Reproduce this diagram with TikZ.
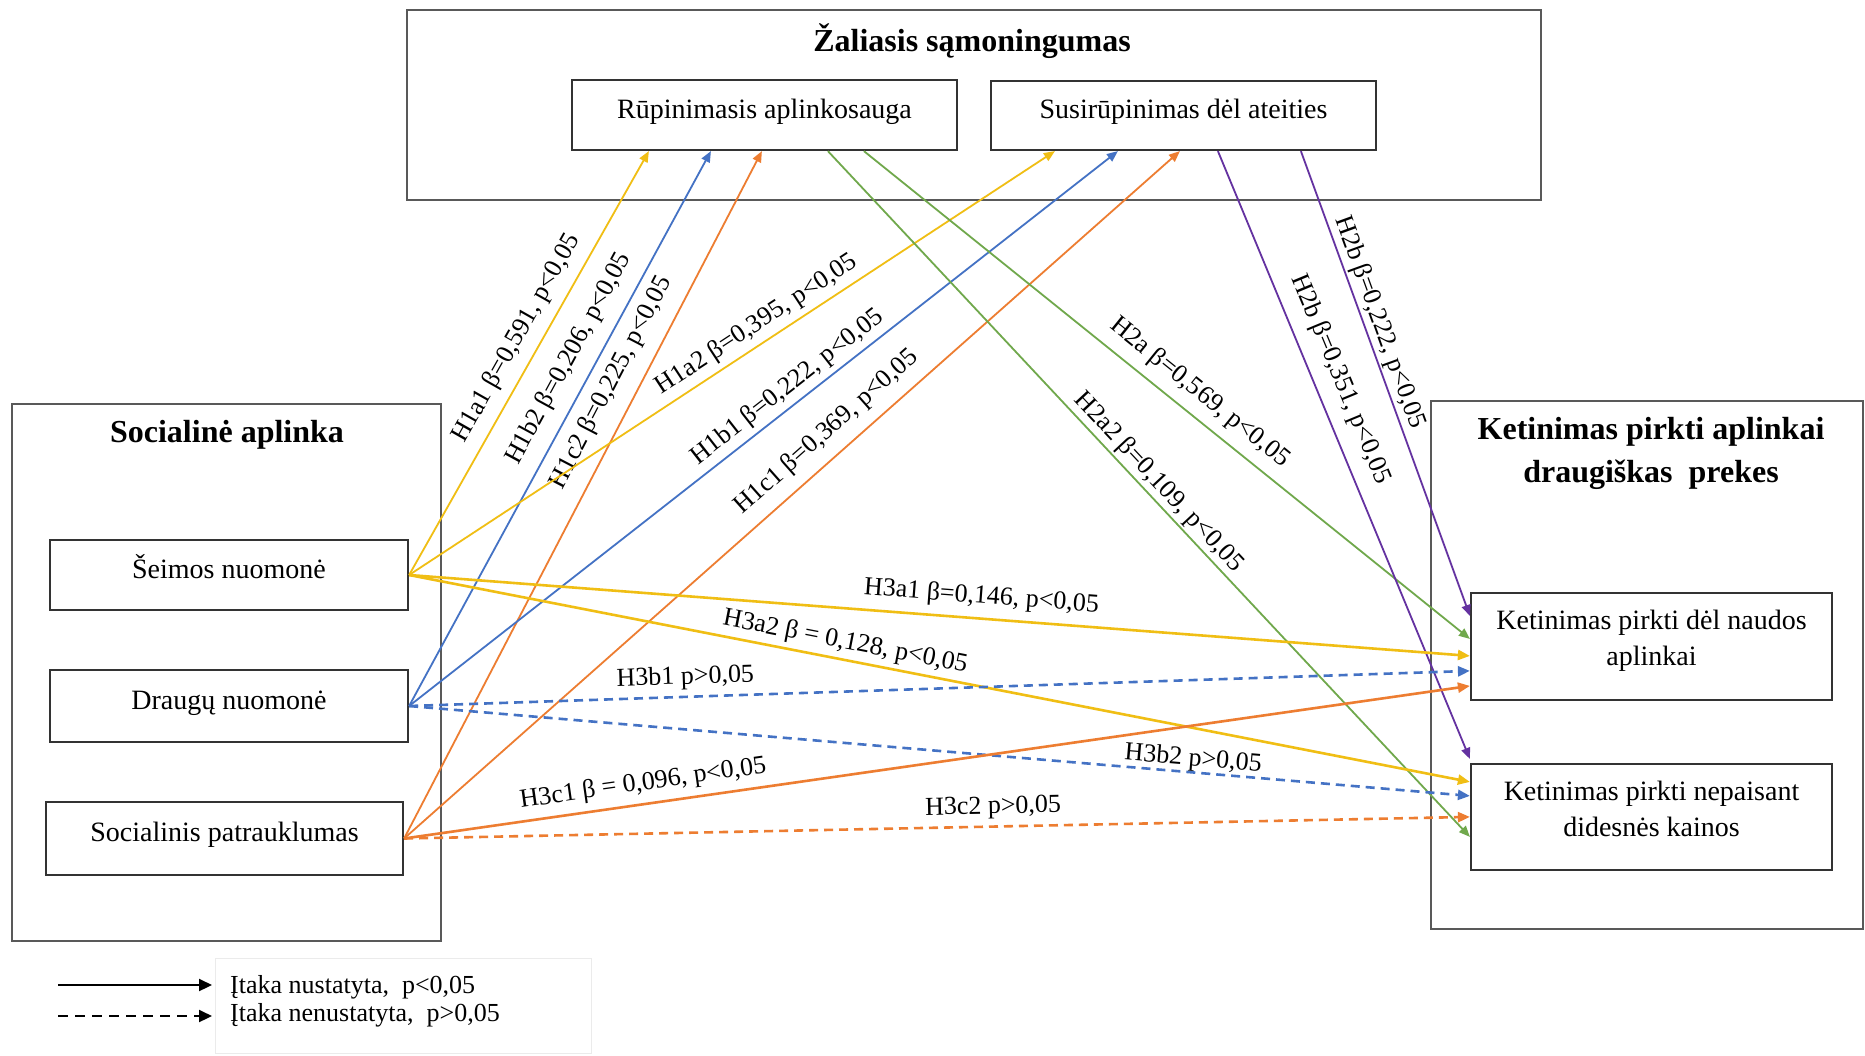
\documentclass[tikz,border=0pt]{standalone}
\usepackage{fontspec}
\setmainfont{Liberation Serif}
\usetikzlibrary{arrows.meta}
\newcommand{\bxfont}{\fontsize{28}{36}\selectfont}
\newcommand{\ttlfont}{\fontsize{32}{43}\selectfont\bfseries}
\newcommand{\lbfont}{\fontsize{26}{30}\selectfont}
\newcommand{\twolines}[2]{\raisebox{6pt}[\height][\depth]{\begin{tabular}{@{}c@{}}#1\\#2\end{tabular}}}
\definecolor{cyel}{RGB}{240,190,20}
\definecolor{cblu}{RGB}{68,114,196}
\definecolor{cora}{RGB}{237,125,49}
\definecolor{cgrn}{RGB}{112,168,76}
\definecolor{cpur}{RGB}{100,50,160}
\begin{document}
\begin{tikzpicture}[x=1pt,y=-1pt,
  outerbox/.style={draw=black!65, line width=2.4pt, inner sep=0pt},
  inbox/.style={draw=black!80, line width=2.2pt, inner sep=0pt, font=\bxfont, text height=22pt, text depth=16pt},
  inboxb/.style={draw=black!80, line width=2.2pt, inner sep=0pt, font=\bxfont},
  ttl/.style={font=\ttlfont, inner sep=0pt},
  lab/.style={sloped, font=\lbfont, inner sep=0pt, text=black},
  thinarr/.style={line width=1.8pt, -{Triangle[length=11pt,width=9pt]}},
  thickarr/.style={line width=2.6pt, -{Triangle[length=12pt,width=10pt]}},
  dsh/.style={dash pattern=on 9pt off 6pt},
  legarr/.style={black, line width=2.2pt, -{Triangle[length=13pt,width=12pt]}},
  legtxt/.style={font=\lbfont, inner sep=0pt, anchor=west}
]
\fill[white] (0,0) rectangle (1865,1055);
\useasboundingbox (0,0) rectangle (1865,1055);

% top group
\node[outerbox, minimum width=1134pt, minimum height=190pt] (zal) at (974,105) {};
\node[ttl] (zalt) at (972,41) {Žaliasis sąmoningumas};
\node[inbox, minimum width=385pt, minimum height=70pt] (rup) at (764.5,115) {Rūpinimasis aplinkosauga};
\node[inbox, minimum width=385pt, minimum height=69pt] (sus) at (1183.5,115.5) {Susirūpinimas dėl ateities};

% left group
\node[outerbox, minimum width=429pt, minimum height=537pt] (soc) at (226.5,672.5) {};
\node[ttl] (soct) at (227,435) {Socialinė aplinka};
\node[inbox, minimum width=358pt, minimum height=70pt] (seim) at (229,575) {Šeimos nuomonė};
\node[inbox, minimum width=358pt, minimum height=72pt] (drau) at (229,706) {Draugų nuomonė};
\node[inbox, minimum width=357pt, minimum height=73pt] (spat) at (224.5,838.5) {Socialinis patrauklumas};

% right group
\node[outerbox, minimum width=432pt, minimum height=528pt] (ket) at (1647,665) {};
\node[ttl, align=center] (kett) at (1651,453) {Ketinimas pirkti aplinkai\\draugiškas~ prekes};
\node[inboxb, minimum width=361pt, minimum height=107pt] (k1) at (1651.5,646.5) {\twolines{Ketinimas pirkti dėl naudos}{aplinkai}};
\node[inboxb, minimum width=361pt, minimum height=106pt] (k2) at (1651.5,817) {\twolines{Ketinimas pirkti nepaisant}{didesnės kainos}};

% H1 arrows
\draw[thinarr, cyel] (seim.east) -- node[lab, pos=0.532, above=10pt] {H1a1 β=0,591, p<0,05} ([xshift=78pt]rup.south west);
\draw[thinarr, cblu] (drau.east) -- node[lab, pos=0.604, above=12.7pt] {H1b2 β=0,206, p<0,05} ([xshift=140pt]rup.south west);
\draw[thinarr, cora] (spat.east) -- node[lab, pos=0.645, above=13.8pt] {H1c2 β=0,225, p<0,05} ([xshift=191pt]rup.south west);
\draw[thinarr, cyel] (seim.east) -- node[lab, pos=0.554, above=5.8pt] {H1a2 β=0,395, p<0,05} ([xshift=65pt]sus.south west);
\draw[thinarr, cblu] (drau.east) -- node[lab, pos=0.549, above=4.8pt] {H1b1 β=0,222, p<0,05} ([xshift=128pt]sus.south west);
\draw[thinarr, cora] (spat.east) -- node[lab, pos=0.565, above=11.2pt] {H1c1 β=0,369, p<0,05} ([xshift=190pt]sus.south west);

% H2 arrows
\draw[thinarr, cgrn] ([xshift=293pt]rup.south west) -- node[lab, pos=0.531, above=9.6pt] {H2a β=0,569, p<0,05} ([yshift=-47pt]k1.north west);
\draw[thinarr, cgrn] ([xshift=257pt]rup.south west) -- node[lab, pos=0.498, above=2.3pt] {H2a2 β=0,109, p<0,05} ([yshift=-74pt]k2.north west);
\draw[thinarr, cpur] ([xshift=228pt]sus.south west) -- node[lab, pos=0.392, above=13pt] {H2b β=0,351, p<0,05} ([yshift=4pt]k2.north west);
\draw[thinarr, cpur] ([xshift=311pt]sus.south west) -- node[lab, pos=0.380, above=2.4pt] {H2b β=0,222, p<0,05} ([yshift=-24pt]k1.north west);

% H3 arrows
\draw[thickarr, cyel] (seim.east) -- node[lab, pos=0.538, above=8.3pt] {H3a1 β=0,146, p<0,05} ([yshift=-64pt]k1.north west);
\draw[thickarr, cyel] (seim.east) -- node[lab, pos=0.408, above=4.2pt] {H3a2 β = 0,128, p<0,05} ([yshift=-19pt]k2.north west);
\draw[thickarr, dsh, cblu] (drau.east) -- node[lab, pos=0.261, above=5.9pt] {H3b1 p>0,05} ([yshift=-79pt]k1.north west);
\draw[thickarr, dsh, cblu] (drau.east) -- node[lab, pos=0.738, above=0pt] {H3b2 p>0,05} ([yshift=-33pt]k2.north west);
\draw[thickarr, cora] (spat.east) -- node[lab, pos=0.227, above=7.1pt] {H3c1 β = 0,096, p<0,05} ([yshift=-94pt]k1.north west);
\draw[thickarr, dsh, cora] (spat.east) -- node[lab, pos=0.553, above=6.1pt] {H3c2 p>0,05} ([yshift=-54pt]k2.north west);

% legend
\node[draw=black!8, line width=1pt, minimum width=376pt, minimum height=95pt, inner sep=0pt] (leg) at (403,1005.5) {};
\node[legtxt] (lg1) at (230,987) {Įtaka nustatyta,~ p<0,05};
\node[legtxt] (lg2) at (230,1015) {Įtaka nenustatyta,~ p>0,05};
\coordinate (ls1) at (58,985);
\coordinate (le1) at (212,985);
\coordinate (ls2) at (58,1016);
\coordinate (le2) at (212,1016);
\draw[legarr] (ls1) -- (le1);
\draw[legarr, dash pattern=on 10pt off 7pt] (ls2) -- (le2);
\end{tikzpicture}
\end{document}
